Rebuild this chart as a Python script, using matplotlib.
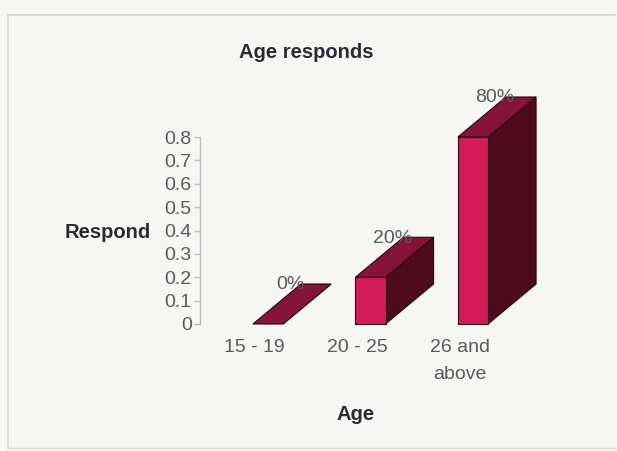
import matplotlib
matplotlib.use("Agg")
import matplotlib.pyplot as plt
from matplotlib.patches import Polygon, Rectangle
from matplotlib.lines import Line2D

plt.rcParams['font.family'] = ['Liberation Sans', 'DejaVu Sans']

# Data
categories = ["15 - 19", "20 - 25", "26 and\nabove"]
values = [0.0, 0.2, 0.8]
value_labels = ["0%", "20%", "80%"]
yticks = [0, 0.1, 0.2, 0.3, 0.4, 0.5, 0.6, 0.7, 0.8]
ytick_labels = ["0", "0.1", "0.2", "0.3", "0.4", "0.5", "0.6", "0.7", "0.8"]

W, H = 617, 451
fig = plt.figure(figsize=(W / 100, H / 100), dpi=100)
bg = "#f6f6f4"
fig.patch.set_facecolor(bg)

# Frame of the chart panel
fig.add_artist(Line2D([8 / W, 8 / W], [1 - 15 / H, 1 - 448 / H], color="#d6d6d4", lw=1.2))
fig.add_artist(Line2D([8 / W, 615 / W], [1 - 15 / H, 1 - 15 / H], color="#d6d6d4", lw=1.2))
fig.add_artist(Line2D([8 / W, 615 / W], [1 - 448 / H, 1 - 448 / H], color="#dcdcda", lw=1.0))

# Axes: value axis from 0 (y=324px) to 0.8 (y=137px), spine at x=200px
px_per_cat = 102.5
x_left = -68 / px_per_cat
x_right = 3.0
ax_w = (x_right - x_left) * px_per_cat
ax = fig.add_axes([200 / W, (H - 324) / H, ax_w / W, (324 - 137) / H])
ax.set_facecolor("none")
ax.set_xlim(x_left, x_right)
ax.set_ylim(0, 0.8)

for s in ["top", "right", "bottom"]:
    ax.spines[s].set_visible(False)
ax.spines["left"].set_color("#bdbdbd")
ax.spines["left"].set_linewidth(1.0)
ax.set_yticks(yticks)
ax.set_yticklabels(ytick_labels)
ax.tick_params(axis="y", colors="#bdbdbd", length=4, width=1.0, pad=2,
               labelcolor="#5a5a5a", labelsize=14)
ax.set_xticks([])

# 3D-style bars
half_w = 0.147                      # half of front face width (category units)
dx = 48 / px_per_cat                # depth offset to the right
dz = 40 / ((324 - 137) / 0.8)       # depth offset upwards (value units)
front_c = "#d41a58"
top_c = "#84143a"
side_c = "#4e0b1d"
edge_c = "#2a0610"

for i, v in enumerate(values):
    x0, x1 = i - half_w, i + half_w
    side = Polygon([[x1, 0], [x1 + dx, dz], [x1 + dx, v + dz], [x1, v]],
                   closed=True, facecolor=side_c, edgecolor=edge_c, lw=0.8, clip_on=False)
    top = Polygon([[x0, v], [x1, v], [x1 + dx, v + dz], [x0 + dx, v + dz]],
                  closed=True, facecolor=top_c, edgecolor=edge_c, lw=0.8, clip_on=False)
    ax.add_patch(side)
    if v > 0:
        front = Rectangle((x0, 0), x1 - x0, v, facecolor=front_c,
                          edgecolor=edge_c, lw=0.8, clip_on=False)
        ax.add_patch(front)
    ax.add_patch(top)
    ax.text(i + 0.215, v + dz * 0.98, value_labels[i], ha="center", va="center",
            fontsize=14, color="#5a5a5a", clip_on=False)

# Category labels
for i, lab in enumerate(categories):
    ax.text(i - 0.13, -0.065, lab, ha="center", va="top", fontsize=14,
            color="#5a5a5a", linespacing=1.75, clip_on=False)

# Titles
title_c = "#2a2a33"
fig.text(306 / W, 1 - 52 / H, "Age responds", ha="center", va="center",
         fontsize=14.5, fontweight="bold", color=title_c)
fig.text(108 / W, 1 - 232 / H, "Respond", ha="center", va="center",
         fontsize=14.5, fontweight="bold", color=title_c)
fig.text(356 / W, 1 - 414 / H, "Age", ha="center", va="center",
         fontsize=14.5, fontweight="bold", color=title_c)

fig.savefig("out.png", dpi=100, facecolor=fig.get_facecolor())
